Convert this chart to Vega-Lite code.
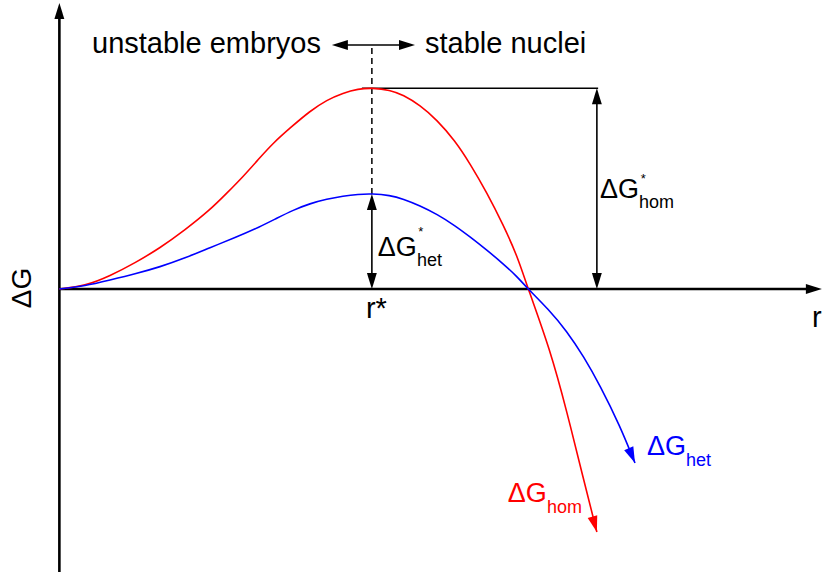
{
  "$schema": "https://vega.github.io/schema/vega-lite/v6.json",
  "width": 825,
  "height": 576,
  "autosize": {"type": "fit", "contains": "padding"},
  "padding": 0,
  "background": "white",
  "config": {"view": {"stroke": null}, "font": "Liberation Sans"},
  "datasets": {
    "curves": [
      {"ink": "hom", "r": 0, "G": 0},
      {"ink": "hom", "r": 0.82, "G": 0.15},
      {"ink": "hom", "r": 1.62, "G": 0.65},
      {"ink": "hom", "r": 2.42, "G": 1.3},
      {"ink": "hom", "r": 3.22, "G": 2.04},
      {"ink": "hom", "r": 4.02, "G": 2.94},
      {"ink": "hom", "r": 4.82, "G": 3.94},
      {"ink": "hom", "r": 5.36, "G": 4.78},
      {"ink": "hom", "r": 5.88, "G": 5.6},
      {"ink": "hom", "r": 6.42, "G": 6.55},
      {"ink": "hom", "r": 6.84, "G": 7.27},
      {"ink": "hom", "r": 7.38, "G": 8.02},
      {"ink": "hom", "r": 8.02, "G": 8.87},
      {"ink": "hom", "r": 8.56, "G": 9.42},
      {"ink": "hom", "r": 9.08, "G": 9.77},
      {"ink": "hom", "r": 9.56, "G": 9.97},
      {"ink": "hom", "r": 10, "G": 10.02},
      {"ink": "hom", "r": 10.58, "G": 9.92},
      {"ink": "hom", "r": 11, "G": 9.67},
      {"ink": "hom", "r": 11.54, "G": 9.16},
      {"ink": "hom", "r": 12.08, "G": 8.43},
      {"ink": "hom", "r": 12.66, "G": 7.39},
      {"ink": "hom", "r": 13.14, "G": 6.25},
      {"ink": "hom", "r": 13.68, "G": 4.8},
      {"ink": "hom", "r": 14.2, "G": 3.2},
      {"ink": "hom", "r": 14.64, "G": 1.7},
      {"ink": "hom", "r": 15, "G": 0},
      {"ink": "hom", "r": 15.7, "G": -3.0},
      {"ink": "hom", "r": 16.24, "G": -6.1},
      {"ink": "hom", "r": 16.76, "G": -9.4},
      {"ink": "hom", "r": 17.2, "G": -12.11},
      {"ink": "het", "r": 0, "G": 0},
      {"ink": "het", "r": 0.82, "G": 0.15},
      {"ink": "het", "r": 1.62, "G": 0.45},
      {"ink": "het", "r": 2.42, "G": 0.75},
      {"ink": "het", "r": 3.22, "G": 1.1},
      {"ink": "het", "r": 4.02, "G": 1.54},
      {"ink": "het", "r": 4.82, "G": 2.06},
      {"ink": "het", "r": 5.62, "G": 2.56},
      {"ink": "het", "r": 6.42, "G": 3.1},
      {"ink": "het", "r": 6.96, "G": 3.53},
      {"ink": "het", "r": 7.48, "G": 3.93},
      {"ink": "het", "r": 8.02, "G": 4.26},
      {"ink": "het", "r": 8.56, "G": 4.48},
      {"ink": "het", "r": 9.08, "G": 4.63},
      {"ink": "het", "r": 9.56, "G": 4.72},
      {"ink": "het", "r": 10, "G": 4.75},
      {"ink": "het", "r": 10.58, "G": 4.67},
      {"ink": "het", "r": 11, "G": 4.49},
      {"ink": "het", "r": 11.54, "G": 4.15},
      {"ink": "het", "r": 12.08, "G": 3.73},
      {"ink": "het", "r": 12.66, "G": 3.16},
      {"ink": "het", "r": 13.14, "G": 2.6},
      {"ink": "het", "r": 13.68, "G": 1.94},
      {"ink": "het", "r": 14.2, "G": 1.26},
      {"ink": "het", "r": 14.64, "G": 0.63},
      {"ink": "het", "r": 15, "G": 0},
      {"ink": "het", "r": 15.64, "G": -0.99},
      {"ink": "het", "r": 16.24, "G": -2.1},
      {"ink": "het", "r": 16.78, "G": -3.37},
      {"ink": "het", "r": 17.3, "G": -4.8},
      {"ink": "het", "r": 17.94, "G": -6.82},
      {"ink": "het", "r": 18.42, "G": -8.67}
    ],
    "guides": [
      {"part": "axis", "ink": "axis", "r": 0, "G": -14.1, "r2": 0, "G2": 13.9},
      {"part": "axis", "ink": "axis", "r": 0, "G": 0, "r2": 24.2, "G2": 0},
      {"part": "arrow", "ink": "axis", "r": 8.9, "G": 12.16, "r2": 11.2, "G2": 12.16},
      {"part": "arrow", "ink": "axis", "r": 10, "G": 0.3, "r2": 10, "G2": 4.45},
      {"part": "arrow", "ink": "axis", "r": 17.2, "G": 0.3, "r2": 17.2, "G2": 9.7},
      {"part": "arrow", "ink": "axis", "r": 9.68, "G": 10, "r2": 17.24, "G2": 10},
      {"part": "dash", "ink": "axis", "r": 10, "G": 4.73, "r2": 10, "G2": 12.16}
    ],
    "heads": [
      {"ink": "axis", "r": 0, "G": 14.25, "dir": 180},
      {"ink": "axis", "r": 24.4, "G": 0, "dir": -90},
      {"ink": "axis", "r": 8.72, "G": 12.16, "dir": 90},
      {"ink": "axis", "r": 11.38, "G": 12.16, "dir": -90},
      {"ink": "axis", "r": 10, "G": 4.73, "dir": 180},
      {"ink": "axis", "r": 10, "G": 0, "dir": 0},
      {"ink": "axis", "r": 17.2, "G": 10, "dir": 180},
      {"ink": "axis", "r": 17.2, "G": 0, "dir": 0},
      {"ink": "hom", "r": 17.2, "G": -12.11, "dir": -16},
      {"ink": "het", "r": 18.42, "G": -8.67, "dir": -23}
    ],
    "labels": [
      {"part": "lead", "ink": "axis", "text": "unstable embryos", "r": 8.37, "G": 11.76},
      {"part": "main", "ink": "axis", "text": "stable nuclei", "r": 11.7, "G": 11.76},
      {"part": "main", "ink": "axis", "text": "r*", "r": 9.81, "G": -1.44},
      {"part": "main", "ink": "axis", "text": "r", "r": 24.08, "G": -1.89},
      {"part": "vertical", "ink": "axis", "text": "ΔG", "r": -1.165, "G": 0.05},
      {"part": "symbol", "ink": "axis", "text": "ΔG", "r": 17.3, "G": 4.53},
      {"part": "sub", "ink": "axis", "text": "hom", "r": 18.55, "G": 4.04},
      {"part": "star", "ink": "axis", "text": "*", "r": 18.6, "G": 5.28},
      {"part": "symbol", "ink": "axis", "text": "ΔG", "r": 10.19, "G": 1.64},
      {"part": "sub", "ink": "axis", "text": "het", "r": 11.44, "G": 1.15},
      {"part": "star", "ink": "axis", "text": "*", "r": 11.48, "G": 2.64},
      {"part": "symbol", "ink": "hom", "text": "ΔG", "r": 14.35, "G": -10.61},
      {"part": "sub", "ink": "hom", "text": "hom", "r": 15.6, "G": -11.16},
      {"part": "symbol", "ink": "het", "text": "ΔG", "r": 18.8, "G": -8.27},
      {"part": "sub", "ink": "het", "text": "het", "r": 20.05, "G": -8.82}
    ]
  },
  "encoding": {
    "x": {"field": "r", "type": "quantitative", "scale": {"domain": [-1.9, 24.5], "nice": false, "zero": false}, "axis": null},
    "y": {"field": "G", "type": "quantitative", "scale": {"domain": [-14.3, 14.4], "nice": false, "zero": false}, "axis": null},
    "color": {"field": "ink", "type": "nominal", "scale": {"domain": ["hom", "het", "axis"], "range": ["#ff0000", "#0000ff", "#000000"]}, "legend": null}
  },
  "layer": [
    {
      "data": {"name": "guides"},
      "transform": [{"filter": "datum.part === 'axis'"}],
      "mark": {"type": "rule", "strokeWidth": 2.6},
      "encoding": {"x2": {"field": "r2"}, "y2": {"field": "G2"}}
    },
    {
      "data": {"name": "guides"},
      "transform": [{"filter": "datum.part === 'arrow'"}],
      "mark": {"type": "rule", "strokeWidth": 1.6},
      "encoding": {"x2": {"field": "r2"}, "y2": {"field": "G2"}}
    },
    {
      "data": {"name": "guides"},
      "transform": [{"filter": "datum.part === 'dash'"}],
      "mark": {"type": "rule", "strokeWidth": 1.5, "strokeDash": [6, 4]},
      "encoding": {"x2": {"field": "r2"}, "y2": {"field": "G2"}}
    },
    {
      "data": {"name": "curves"},
      "mark": {"type": "line", "interpolate": "basis", "strokeWidth": 1.6},
      "encoding": {}
    },
    {
      "data": {"name": "heads"},
      "mark": {"type": "point", "shape": "M0,0L-0.31,-1L0.31,-1Z", "filled": true, "opacity": 1, "size": 1024, "strokeWidth": 0},
      "encoding": {"angle": {"field": "dir", "type": "quantitative", "scale": null}}
    },
    {
      "data": {"name": "labels"},
      "transform": [{"filter": "datum.part === 'lead'"}],
      "mark": {"type": "text", "fontSize": 29, "align": "right", "baseline": "alphabetic"},
      "encoding": {"text": {"field": "text"}}
    },
    {
      "data": {"name": "labels"},
      "transform": [{"filter": "datum.part === 'main'"}],
      "mark": {"type": "text", "fontSize": 29, "align": "left", "baseline": "alphabetic"},
      "encoding": {"text": {"field": "text"}}
    },
    {
      "data": {"name": "labels"},
      "transform": [{"filter": "datum.part === 'vertical'"}],
      "mark": {"type": "text", "fontSize": 28, "align": "center", "baseline": "middle", "angle": 270},
      "encoding": {"text": {"field": "text"}}
    },
    {
      "data": {"name": "labels"},
      "transform": [{"filter": "datum.part === 'symbol'"}],
      "mark": {"type": "text", "fontSize": 27, "align": "left", "baseline": "alphabetic"},
      "encoding": {"text": {"field": "text"}}
    },
    {
      "data": {"name": "labels"},
      "transform": [{"filter": "datum.part === 'sub'"}],
      "mark": {"type": "text", "fontSize": 18, "align": "left", "baseline": "alphabetic"},
      "encoding": {"text": {"field": "text"}}
    },
    {
      "data": {"name": "labels"},
      "transform": [{"filter": "datum.part === 'star'"}],
      "mark": {"type": "text", "fontSize": 13, "align": "left", "baseline": "alphabetic"},
      "encoding": {"text": {"field": "text"}}
    }
  ]
}
